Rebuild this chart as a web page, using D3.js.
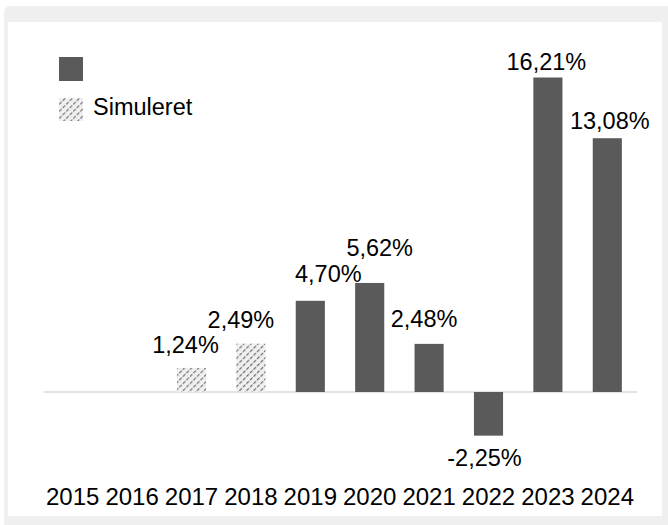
<!DOCTYPE html>
<html><head><meta charset="utf-8">
<script src="https://cdn.jsdelivr.net/npm/d3@7"></script>
<style>body{margin:0;background:#fff}svg{display:block}text{font-family:"Liberation Sans",Arial,sans-serif;fill:#000}</style>
</head><body><svg id="c" width="668" height="525"></svg>
<script>
const years = ["2015","2016","2017","2018","2019","2020","2021","2022","2023","2024"];
const values = [null,null,1.24,2.49,4.70,5.62,2.48,-2.25,16.21,13.08];
const simulated = [false,false,true,true,false,false,false,false,false,false];
const labels = ["","","1,24%","2,49%","4,70%","5,62%","2,48%","-2,25%","16,21%","13,08%"];
const legendLabels = ["", "Simuleret"];

// manual label placement (offset from bar end), as in the original
const labelDx = [0,0,-6,-10,18,10,-5,-4,-1.5,2.5];
const labelGap = [0,0,15,15.7,19,26.7,16.7,30.4,8,9];

const svg = d3.select("#c");
// frame
svg.append("rect").attr("x",4).attr("y",6).attr("width",680).attr("height",530).attr("rx",6).attr("fill","#f0f0f0");
svg.append("rect").attr("x",8).attr("y",22).attr("width",654).attr("height",494).attr("fill","#fff");

const defs = svg.append("defs");
const pat = defs.append("pattern").attr("id","hatch").attr("patternUnits","userSpaceOnUse")
  .attr("width",5).attr("height",5).attr("patternTransform","rotate(45)");
pat.append("rect").attr("width",5).attr("height",5).attr("fill","#f0f0f0");
pat.append("line").attr("x1",0).attr("y1",0).attr("x2",0).attr("y2",5)
  .attr("stroke","#6e6e6e").attr("stroke-width",2.4).attr("stroke-dasharray","2,1.5");

const x = d3.scaleBand().domain(years).range([43,637]).paddingInner(0.51).paddingOuter(0.255);
const y = d3.scaleLinear().domain([0,16.21]).range([392,77.5]);

svg.append("line").attr("x1",44).attr("x2",637).attr("y1",y(0)).attr("y2",y(0))
  .attr("stroke","#d9d9d9").attr("stroke-width",1.5);

const data = years.map((yr,i)=>({yr,v:values[i],sim:simulated[i],lab:labels[i],dx:labelDx[i],gap:labelGap[i]})).filter(d=>d.v!==null);

svg.selectAll("rect.bar").data(data).join("rect").attr("class","bar")
  .attr("x",d=>x(d.yr)).attr("width",x.bandwidth())
  .attr("y",d=>y(Math.max(0,d.v))).attr("height",d=>Math.abs(y(d.v)-y(0)))
  .attr("fill",d=>d.sim?"url(#hatch)":"#5a5a5a");

svg.selectAll("text.val").data(data).join("text").attr("class","val")
  .attr("x",d=>x(d.yr)+x.bandwidth()/2+d.dx)
  .attr("y",d=>d.v>=0? y(d.v)-d.gap : y(d.v)+d.gap)
  .attr("text-anchor","middle").attr("font-size",23.5).text(d=>d.lab);

const xa = svg.append("g").attr("transform","translate(0,505)")
  .call(d3.axisBottom(x).tickSize(0).tickPadding(0));
xa.select(".domain").remove();
xa.selectAll("text").attr("font-size",24).attr("y",0).attr("dy",0)
  .style("font-family","'Liberation Sans',Arial,sans-serif").attr("fill","#000");

// legend
const lg = svg.append("g");
lg.append("rect").attr("x",59).attr("y",57).attr("width",24).attr("height",24).attr("fill","#5a5a5a");
lg.append("rect").attr("x",59).attr("y",98).attr("width",24).attr("height",23).attr("fill","url(#hatch)");
lg.append("text").attr("x",93).attr("y",115).attr("font-size",23.5).text(legendLabels[1]);
</script></body></html>
